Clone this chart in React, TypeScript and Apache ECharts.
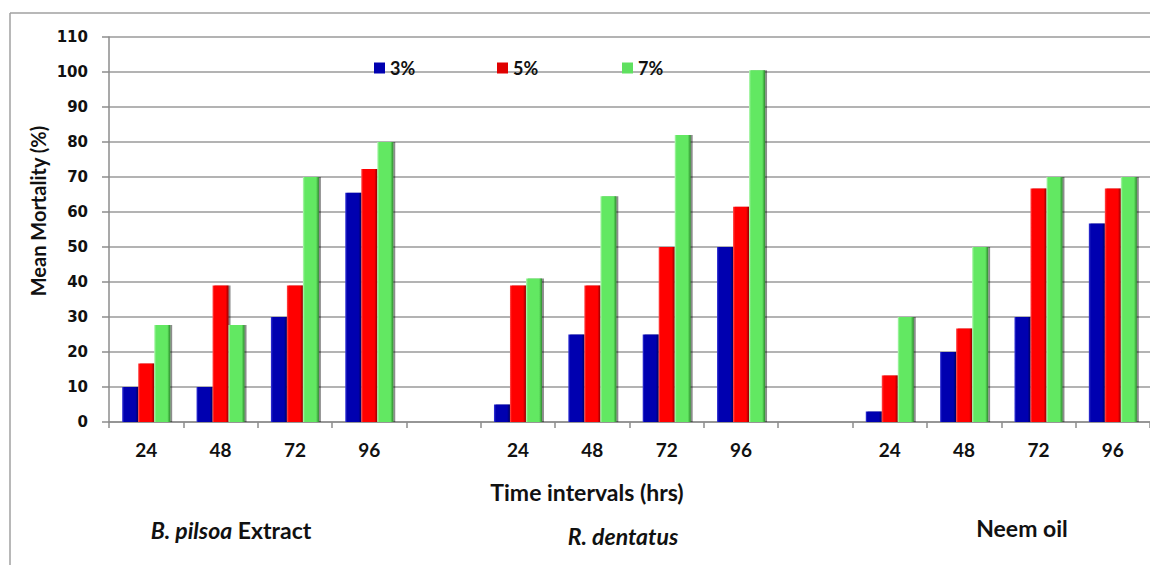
import React, { useEffect, useRef } from "react";
import * as echarts from "echarts";

// Time points (hrs) for each treatment, with an empty slot between groups
const categories = ["24", "48", "72", "96", "", "24", "48", "72", "96", "", "24", "48", "72", "96"];

// Mean mortality (%) per concentration
const series3 = [10, 10, 30, 65.5, null, 5, 25, 25, 50, null, 3, 20, 30, 56.7];
const series5 = [16.7, 39, 39, 72.3, null, 39, 39, 50, 61.5, null, 13.3, 26.7, 66.7, 66.7];
const series7 = [27.7, 27.7, 70, 80, null, 41, 64.5, 82, 100.5, null, 30, 50, 70, 70];

const yTicks = { min: 0, max: 110, interval: 10 };

const FONT = "Lato, 'Open Sans', sans-serif";

const bevel = (light: string, mid: string, dark: string) =>
  new echarts.graphic.LinearGradient(0, 0, 1, 0, [
    { offset: 0, color: light },
    { offset: 0.12, color: mid },
    { offset: 0.82, color: mid },
    { offset: 1, color: dark },
  ]);

export default function App() {
  const ref = useRef<HTMLDivElement>(null);

  useEffect(() => {
    document.body.style.margin = "0";
    const chart = echarts.init(ref.current!, null, { renderer: "svg" });

    const barSeries = (name: string, data: (number | null)[], color: any) => ({
      name,
      type: "bar",
      data,
      barWidth: 16,
      barGap: "0%",
      itemStyle: {
        color,
        shadowColor: "rgba(0,0,0,0.45)",
        shadowOffsetX: 2,
        shadowBlur: 1,
      },
      emphasis: { disabled: true },
    });

    const legendItem = (name: string, left: number, color: string) => ({
      data: [{ name, itemStyle: { color } }],
      left,
      top: 54,
      itemWidth: 11,
      itemHeight: 11,
      itemGap: 0,
      icon: "rect",
      textStyle: { fontFamily: FONT, fontWeight: "bold", fontSize: 18, color: "#111" },
      selectedMode: false,
    });

    const groupText = {
      fontFamily: FONT,
      fontWeight: "bold",
      fontSize: 23,
      fill: "#111",
      align: "center",
      verticalAlign: "middle",
    };

    chart.setOption({
      animation: false,
      backgroundColor: "#fff",
      grid: { left: 109, top: 37, width: 1044, height: 385, containLabel: false },
      legend: [
        legendItem("3%", 369, "#0000b0"),
        legendItem("5%", 492, "#e00000"),
        legendItem("7%", 617, "#5fe05f"),
      ],
      xAxis: {
        type: "category",
        data: categories,
        boundaryGap: true,
        axisLine: { lineStyle: { color: "#8c8c8c", width: 1.5 } },
        axisTick: { show: true, length: 6, interval: 0, lineStyle: { color: "#8c8c8c", width: 1.5 } },
        axisLabel: {
          interval: 0,
          margin: 18,
          fontFamily: FONT,
          fontWeight: "bold",
          fontSize: 19,
          color: "#111",
        },
        splitLine: { show: false },
      },
      yAxis: {
        type: "value",
        min: yTicks.min,
        max: yTicks.max,
        interval: yTicks.interval,
        axisLine: { show: true, lineStyle: { color: "#8c8c8c", width: 1.5 } },
        axisTick: { show: true, length: 7, lineStyle: { color: "#8c8c8c", width: 1.5 } },
        axisLabel: {
          margin: 21,
          fontFamily: "'DejaVu Sans', sans-serif",
          fontWeight: "bold",
          fontSize: 15,
          color: "#111",
        },
        splitLine: { lineStyle: { color: "#9a9a9a", width: 1.5 } },
      },
      graphic: [
        // outer frame
        { type: "line", shape: { x1: 10, y1: 13, x2: 1150, y2: 13 }, style: { stroke: "#a0a0a0", lineWidth: 1.5 } },
        { type: "line", shape: { x1: 10, y1: 13, x2: 10, y2: 565 }, style: { stroke: "#a0a0a0", lineWidth: 1.5 } },
        {
          type: "text",
          x: 38,
          y: 211,
          rotation: Math.PI / 2,
          style: { ...groupText, fontSize: 20, text: "Mean Mortality (%)" },
        },
        { type: "text", x: 587, y: 492, style: { ...groupText, text: "Time intervals (hrs)" } },
        {
          type: "text",
          x: 231,
          y: 530,
          style: {
            ...groupText,
            text: "{i|B. pilsoa} Extract",
            rich: { i: { fontStyle: "italic", fontWeight: "bold", fontFamily: FONT, fontSize: 23, fill: "#111" } },
          },
        },
        { type: "text", x: 623, y: 536, style: { ...groupText, text: "R. dentatus", fontStyle: "italic" } },
        { type: "text", x: 1022, y: 528, style: { ...groupText, text: "Neem oil" } },
      ],
      series: [
        barSeries("3%", series3, bevel("#3a3ad8", "#0000b0", "#000060")),
        barSeries("5%", series5, bevel("#ff5050", "#ff0000", "#900000")),
        barSeries("7%", series7, bevel("#b8f8b8", "#62e862", "#2e8a2e")),
      ],
    });

    return () => chart.dispose();
  }, []);

  return <div ref={ref} style={{ width: 1150, height: 565 }} />;
}
